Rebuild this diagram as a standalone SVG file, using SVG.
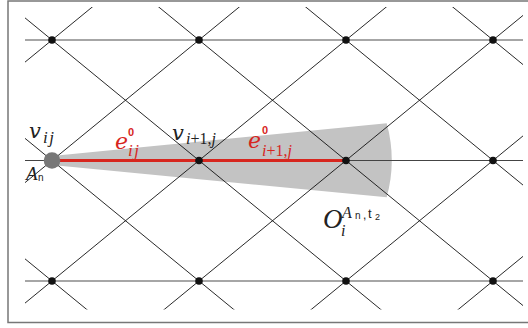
<svg xmlns="http://www.w3.org/2000/svg" width="528" height="328" viewBox="0 0 528 328">
<defs>
<clipPath id="clip"><rect x="25" y="7" width="498" height="302.5"/></clipPath>
<style>
.d{stroke:#111;stroke-width:0.9;fill:none}
.h{stroke:#888;stroke-width:1.3}
.hm{stroke:#444;stroke-width:1.2}
.n{fill:#111}
.m{font-family:"Liberation Serif",serif;font-style:italic;fill:#222}
.b{font-family:"DejaVu Serif",serif;font-style:italic;fill:#222}
.s{font-family:"Liberation Sans",sans-serif;fill:#222}
.up{font-family:"Liberation Serif",serif;font-style:normal}
.red{fill:#d7261e}
.re{stroke:#d7261e;stroke-width:3}
.ls{letter-spacing:1.5px}
</style>
</defs>
<rect x="8" y="1" width="540" height="321.5" fill="#fff" stroke="#777" stroke-width="1.5"/>
<g id="wedge"><path d="M52,156 L386.7,123.3 A140,140 0 0 1 386.7,197.3 L52,165 Z" fill="#c3c3c3"/></g>
<g id="connectors" clip-path="url(#clip)">
<line class="h" x1="20" y1="40" x2="530" y2="40"/>
<line class="hm" x1="20" y1="160.5" x2="530" y2="160.5"/>
<line class="h" x1="20" y1="281" x2="530" y2="281"/>
<line class="d" x1="-290.8" y1="0" x2="99.6" y2="320"/>
<line class="d" x1="-143.8" y1="0" x2="246.6" y2="320"/>
<line class="d" x1="3.2" y1="0" x2="393.6" y2="320"/>
<line class="d" x1="150.2" y1="0" x2="540.6" y2="320"/>
<line class="d" x1="297.2" y1="0" x2="687.6" y2="320"/>
<line class="d" x1="444.2" y1="0" x2="834.6" y2="320"/>
<line class="d" x1="100.8" y1="0" x2="-289.6" y2="320"/>
<line class="d" x1="247.8" y1="0" x2="-142.6" y2="320"/>
<line class="d" x1="394.8" y1="0" x2="4.4" y2="320"/>
<line class="d" x1="541.8" y1="0" x2="151.4" y2="320"/>
<line class="d" x1="688.8" y1="0" x2="298.4" y2="320"/>
<line class="d" x1="835.8" y1="0" x2="445.4" y2="320"/>
<line id="edge-e0-ij" class="re" x1="52" y1="160.5" x2="199" y2="160.5"/>
<line id="edge-e0-i1j" class="re" x1="199" y1="160.5" x2="346" y2="160.5"/>
</g>
<g id="node-r0c0"><circle class="n" cx="52" cy="40" r="3.8"/></g>
<g id="node-r0c1"><circle class="n" cx="199" cy="40" r="3.8"/></g>
<g id="node-r0c2"><circle class="n" cx="346" cy="40" r="3.8"/></g>
<g id="node-r0c3"><circle class="n" cx="493" cy="40" r="3.8"/></g>
<g id="node-vij"><circle cx="52" cy="160.5" r="8.3" fill="#777"/>
<text class="b" x="29" y="138" font-size="21">v</text><text class="m ls" x="43" y="143" font-size="17">ij</text>
<text class="m" x="26" y="180" font-size="19">A</text><text class="s" x="38" y="181" font-size="10">n</text></g>
<g id="node-vi1j"><circle class="n" cx="199" cy="160.5" r="3.8"/>
<text class="b" x="172" y="140" font-size="21">v</text><text class="m" x="186" y="144" font-size="16">i<tspan class="up">+1,</tspan>j</text></g>
<g id="node-O"><circle class="n" cx="346" cy="160.5" r="3.8"/>
<text class="m" x="323" y="228" font-size="27">O</text><text class="m" x="341" y="236" font-size="16">i</text>
<text class="m" x="342" y="218" font-size="16">A</text><text class="s" x="355" y="219" font-size="10">n</text><text class="s" x="363" y="219" font-size="12">,</text><text class="s" x="368" y="218" font-size="13">t</text><text class="s" x="375" y="220" font-size="9">2</text></g>
<g id="node-r1c3"><circle class="n" cx="493" cy="160.5" r="3.8"/></g>
<g id="node-r2c0"><circle class="n" cx="52" cy="281" r="3.8"/></g>
<g id="node-r2c1"><circle class="n" cx="199" cy="281" r="3.8"/></g>
<g id="node-r2c2"><circle class="n" cx="346" cy="281" r="3.8"/></g>
<g id="node-r2c3"><circle class="n" cx="493" cy="281" r="3.8"/></g>
<g id="label-e0ij" class="red">
<text class="b red" x="115" y="149" font-size="22">e</text><text class="s red" x="128" y="136" font-size="11" font-weight="bold">0</text><text class="m red ls" x="128" y="156" font-size="17">ij</text></g>
<g id="label-e0i1j" class="red">
<text class="b red" x="248" y="148" font-size="22">e</text><text class="s red" x="262" y="134" font-size="11" font-weight="bold">0</text><text class="m red" x="262" y="156" font-size="16">i<tspan class="up">+1,</tspan>j</text></g>
</svg>
